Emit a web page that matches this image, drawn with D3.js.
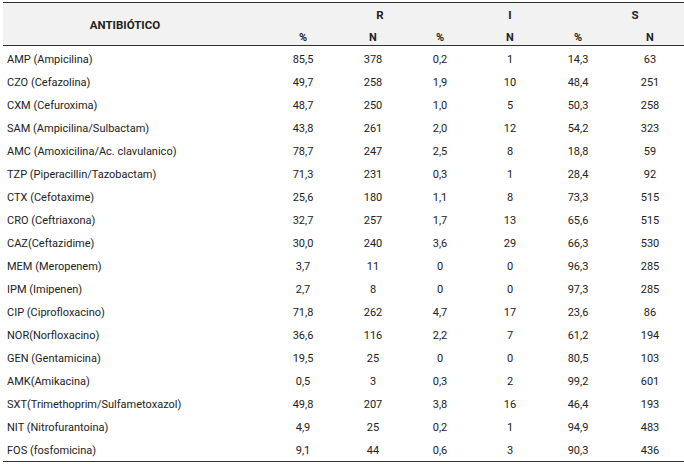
<!DOCTYPE html>
<html><head><meta charset="utf-8">
<script src="https://cdn.jsdelivr.net/npm/d3@7"></script>
<style>body{margin:0;background:#fff}</style>
</head><body>
<svg id="c" width="684" height="464"></svg>
<script>
const antibioticos=["AMP (Ampicilina)","CZO (Cefazolina)","CXM (Cefuroxima)","SAM (Ampicilina/Sulbactam)","AMC (Amoxicilina/Ac. clavulanico)","TZP (Piperacillin/Tazobactam)","CTX (Cefotaxime)","CRO (Ceftriaxona)","CAZ(Ceftazidime)","MEM (Meropenem)","IPM (Imipenen)","CIP (Ciprofloxacino)","NOR(Norfloxacino)","GEN (Gentamicina)","AMK(Amikacina)","SXT(Trimethoprim/Sulfametoxazol)","NIT (Nitrofurantoina)","FOS (fosfomicina)"];
const rPct=["85,5","49,7","48,7","43,8","78,7","71,3","25,6","32,7","30,0","3,7","2,7","71,8","36,6","19,5","0,5","49,8","4,9","9,1"];
const rN=[378,258,250,261,247,231,180,257,240,11,8,262,116,25,3,207,25,44];
const iPct=["0,2","1,9","1,0","2,0","2,5","0,3","1,1","1,7","3,6","0","0","4,7","2,2","0","0,3","3,8","0,2","0,6"];
const iN=[1,10,5,12,8,1,8,13,29,0,0,17,7,0,2,16,1,3];
const sPct=["14,3","48,4","50,3","54,2","18,8","28,4","73,3","65,6","66,3","96,3","97,3","23,6","61,2","80,5","99,2","46,4","94,9","90,3"];
const sN=[63,251,258,323,59,92,515,515,530,285,285,86,194,103,601,193,483,436];
const groups=["R","I","S"];
const subCols=["%","N","%","N","%","N"];

const svg=d3.select("#c");
const font="Roboto, Arial, sans-serif";
const y=d3.scaleBand().domain(d3.range(antibioticos.length)).range([47,462]);
const x=d3.scaleOrdinal().domain(d3.range(6)).range([303,373,440,510,578,650]);
const gx=d3.scaleOrdinal().domain(groups).range([380,510,635]);

svg.append("rect").attr("x",3).attr("y",3).attr("width",681).attr("height",42).attr("fill","#f2f2f2");
svg.append("line").attr("x1",3).attr("x2",684).attr("y1",2.5).attr("y2",2.5).attr("stroke","#333").attr("stroke-width",1.2);
svg.append("line").attr("x1",3).attr("x2",684).attr("y1",45.5).attr("y2",45.5).attr("stroke","#333").attr("stroke-width",1.2);
svg.append("line").attr("x1",3).attr("x2",684).attr("y1",461.5).attr("y2",461.5).attr("stroke","#333").attr("stroke-width",1.2);

svg.append("text").attr("x",125).attr("y",29).attr("text-anchor","middle").attr("font-family",font).attr("font-weight","bold").attr("font-size",11.5).attr("fill","#222").text("ANTIBIÓTICO");
svg.selectAll(".g").data(groups).join("text").attr("x",d=>gx(d)).attr("y",19).attr("text-anchor","middle").attr("font-family",font).attr("font-weight","bold").attr("font-size",11.5).attr("fill","#222").text(d=>d);
svg.selectAll(".sc").data(subCols).join("text").attr("x",(d,i)=>x(i)).attr("y",41).attr("text-anchor","middle").attr("font-family",font).attr("font-weight","bold").attr("font-size",11).attr("fill","#222").text(d=>d);

const rows=antibioticos.map((a,i)=>[a,rPct[i],rN[i],iPct[i],iN[i],sPct[i],sN[i]]);
const g=svg.selectAll(".row").data(rows).join("g").attr("transform",(d,i)=>`translate(0,${y(i)+y.bandwidth()/2+4})`);
g.append("text").attr("x",7).attr("font-family",font).attr("font-size",11).attr("fill","#222").text(d=>d[0]);
g.selectAll(".v").data(d=>d.slice(1)).join("text").attr("x",(d,i)=>x(i)).attr("text-anchor","middle").attr("font-family",font).attr("font-size",11).attr("fill","#222").text(d=>d);
</script>
</body></html>
